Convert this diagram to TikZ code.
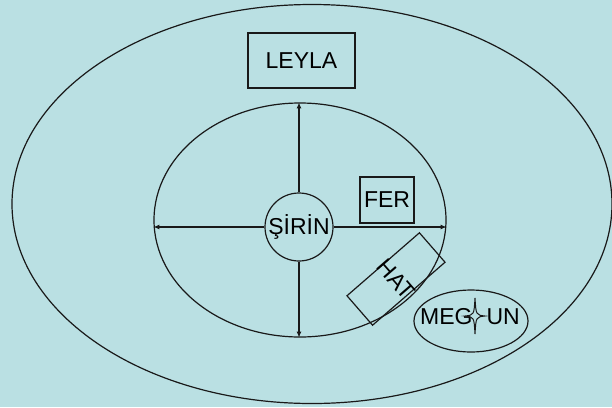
\documentclass[tikz,border=0pt]{standalone}
\usepackage{fontspec}
\setmainfont{Liberation Sans}
\usetikzlibrary{shapes.geometric,arrows.meta}
\definecolor{bgblue}{RGB}{186,224,227}
\definecolor{ink}{RGB}{25,25,25}
\begin{document}
\begin{tikzpicture}[x=1pt,y=-1pt,
  every node/.style={font=\fontsize{23pt}{26pt}\selectfont, inner sep=0pt},
  ring/.style={ellipse, draw=ink, line width=1.2pt},
  box/.style={rectangle, draw=ink, line width=1.2pt},
  arr/.style={-{Latex[length=6pt,width=5pt]}, draw=ink, line width=1.2pt}]
\fill[bgblue] (0,0) rectangle (612,407);
\useasboundingbox (0,0) rectangle (612,407);

\node[ring, minimum width=600pt, minimum height=399pt] (outer) at (312,204){};
\node[ring, minimum width=292pt, minimum height=234pt] (inner) at (300,220){};
\node[box, minimum width=107pt, minimum height=55pt] (leyla) at (301.5,60.5){LEYLA};
\node[box, minimum width=54pt, minimum height=46pt] (fer) at (387,200){FER};
\node[circle, draw=ink, line width=1.2pt, minimum size=68pt] (sirin) at (299,227){ŞİRİN};
\node[box, rotate=41, minimum width=96pt, minimum height=39pt] (hat) at (396,279){};
\node[rotate=-49] (hattext) at (hat){HAT};
\node[ring, minimum width=114pt, minimum height=62pt] (meghun) at (471,321){};
\node (megtext) at (470,317){MEG\hspace{14pt}UN};
\coordinate (star) at (475,316);
\draw[draw=ink, fill=bgblue, line width=1pt, shift={(star)}]
  (0,-18) .. controls (1,-1) .. (10,0) .. controls (1,1) .. (0,18)
  .. controls (-1,1) .. (-10,0) .. controls (-1,-1) .. cycle;

\draw[arr](sirin.north) -- (sirin.north |- inner.north);
\draw[arr](sirin.south) -- (sirin.south |- inner.south);
\draw[arr](sirin.west) -- (sirin.west -| inner.west);
\draw[arr](sirin.east) -- (sirin.east -| inner.east);

\end{tikzpicture}
\end{document}
